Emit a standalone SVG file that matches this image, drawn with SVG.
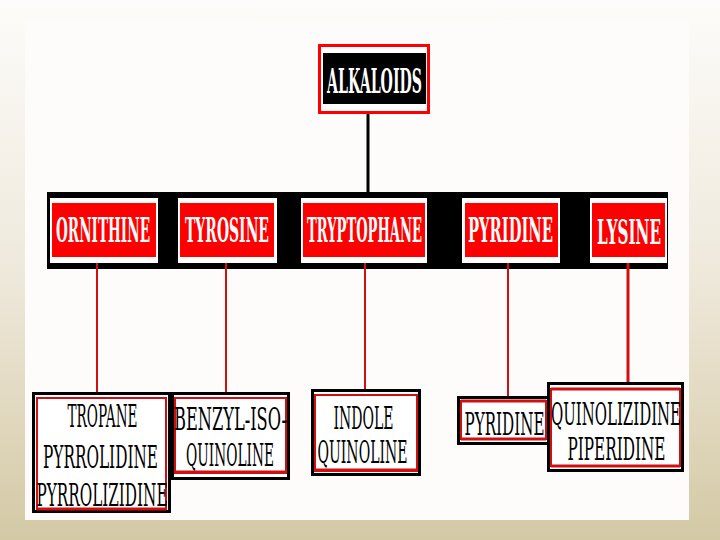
<svg xmlns="http://www.w3.org/2000/svg" width="720" height="540" viewBox="0 0 720 540">
<defs>
<linearGradient id="bg" x1="0" y1="0" x2="0" y2="1">
<stop offset="0" stop-color="#fdfcfa"/>
<stop offset="0.5" stop-color="#efe9dc"/>
<stop offset="1" stop-color="#d4c9a5"/>
</linearGradient>
<style>
.wt{font-family:"DejaVu Serif","Liberation Serif",serif;font-size:34px;fill:#ffffff;font-weight:bold;text-anchor:middle}
.bt{font-family:"DejaVu Serif","Liberation Serif",serif;font-size:32px;fill:#000000;text-anchor:middle}
.outer{fill:#ffffff;stroke:#000000;stroke-width:3}
.inner{fill:#ffffff;stroke:#d01010;stroke-width:2}
.rl{stroke:#d01010;stroke-width:2;fill:none}
.rb{stroke:#d01010;stroke-width:3}
.wb{fill:#ffffff}
.rd{fill:#ff0000}
</style>
</defs>
<rect x="0" y="0" width="720" height="540" fill="url(#bg)"/>
<rect x="25" y="20" width="664" height="500" fill="#fdfcfa"/>

<g id="band">
<rect x="47" y="192" width="621" height="77" fill="#000000"/>
</g>

<g id="connectors">
<line x1="368" y1="114" x2="368" y2="192" stroke="#000000" stroke-width="3"/>
<line x1="97" y1="263" x2="97" y2="392" class="rl"/>
<line x1="226" y1="263" x2="226" y2="392" class="rl"/>
<line x1="365" y1="263" x2="365" y2="390" class="rl"/>
<line x1="508" y1="263" x2="508" y2="397" class="rl"/>
<line x1="628" y1="263" x2="628" y2="383" stroke="#d01010" stroke-width="3"/>
</g>

<g id="alkaloids">
<rect x="319.5" y="45.5" width="109" height="67" fill="#ffffff" stroke="#ff0000" stroke-width="3"/>
<rect x="323" y="53" width="103" height="51" fill="#000000"/>
<text class="wt" transform="translate(374.5,93) scale(0.5,1)" textLength="190" lengthAdjust="spacingAndGlyphs">ALKALOIDS</text>
</g>

<g id="ornithine">
<rect x="50" y="198" width="108" height="65" class="wb"/>
<rect x="52" y="203" width="104" height="54" class="rd"/>
<text class="wt" transform="translate(103,242) scale(0.5,1)" textLength="188" lengthAdjust="spacingAndGlyphs">ORNITHINE</text>
</g>

<g id="tyrosine">
<rect x="178" y="198" width="99" height="65" class="wb"/>
<rect x="180" y="203" width="94" height="54" class="rd"/>
<text class="wt" transform="translate(227,242) scale(0.5,1)" textLength="168" lengthAdjust="spacingAndGlyphs">TYROSINE</text>
</g>

<g id="tryptophane">
<rect x="301" y="198" width="126" height="65" class="wb"/>
<rect x="303" y="203" width="122" height="54" class="rd"/>
<text class="wt" transform="translate(364.5,242) scale(0.5,1)" textLength="230" lengthAdjust="spacingAndGlyphs">TRYPTOPHANE</text>
</g>

<g id="pyridine">
<rect x="462" y="198" width="98" height="65" class="wb"/>
<rect x="465" y="203" width="93" height="54" class="rd"/>
<text class="wt" transform="translate(510.5,242) scale(0.5,1)" textLength="170" lengthAdjust="spacingAndGlyphs">PYRIDINE</text>
</g>

<g id="lysine">
<rect x="590" y="198" width="77" height="65" class="wb"/>
<rect x="592" y="203" width="73" height="54" class="rd"/>
<text class="wt" transform="translate(629,244) scale(0.5,1)" textLength="128" lengthAdjust="spacingAndGlyphs">LYSINE</text>
</g>

<g id="tropane">
<rect x="33.5" y="393.5" width="136" height="118" class="outer"/>
<rect x="37" y="398" width="129" height="111" class="inner"/>
<line x1="37" y1="509" x2="166" y2="509" class="rb"/>
<text class="bt" transform="translate(102.5,427) scale(0.5,1)" textLength="140" lengthAdjust="spacingAndGlyphs">TROPANE</text>
<text class="bt" transform="translate(100.5,468) scale(0.5,1)" textLength="230" lengthAdjust="spacingAndGlyphs">PYRROLIDINE</text>
<text class="bt" transform="translate(102,506) scale(0.5,1)" textLength="262" lengthAdjust="spacingAndGlyphs">PYRROLIZIDINE</text>
</g>

<g id="benzyl">
<rect x="172.5" y="393.5" width="116" height="85" class="outer"/>
<rect x="175" y="398" width="111" height="75" class="inner"/>
<line x1="175" y1="472" x2="286" y2="472" class="rb"/>
<text class="bt" transform="translate(230.5,430) scale(0.5,1)" textLength="226" lengthAdjust="spacingAndGlyphs">BENZYL-ISO-</text>
<text class="bt" transform="translate(230,466) scale(0.5,1)" textLength="176" lengthAdjust="spacingAndGlyphs">QUINOLINE</text>
</g>

<g id="indole">
<rect x="312.5" y="390.5" width="107" height="84" class="outer"/>
<rect x="315" y="395" width="102" height="76" class="inner"/>
<line x1="315" y1="470" x2="417" y2="470" class="rb"/>
<text class="bt" transform="translate(363.5,429) scale(0.5,1)" textLength="120" lengthAdjust="spacingAndGlyphs">INDOLE</text>
<text class="bt" transform="translate(362.5,463) scale(0.5,1)" textLength="180" lengthAdjust="spacingAndGlyphs">QUINOLINE</text>
</g>

<g id="pyridine2">
<rect x="458.5" y="397.5" width="92" height="46" class="outer"/>
<rect x="461" y="401" width="85" height="38" class="inner"/>
<line x1="461" y1="401" x2="546" y2="401" class="rb"/>
<line x1="461" y1="439" x2="546" y2="439" class="rb"/>
<text class="bt" transform="translate(504.5,435) scale(0.5,1)" textLength="160" lengthAdjust="spacingAndGlyphs">PYRIDINE</text>
</g>

<g id="quinolizidine">
<rect x="548.5" y="383.5" width="134" height="87" class="outer"/>
<rect x="551" y="389" width="129" height="77" class="inner"/>
<line x1="551" y1="389" x2="680" y2="389" class="rb"/>
<line x1="551" y1="466" x2="680" y2="466" class="rb"/>
<text class="bt" transform="translate(616,425) scale(0.5,1)" textLength="260" lengthAdjust="spacingAndGlyphs">QUINOLIZIDINE</text>
<text class="bt" transform="translate(616.5,460) scale(0.5,1)" textLength="196" lengthAdjust="spacingAndGlyphs">PIPERIDINE</text>
</g>
</svg>
